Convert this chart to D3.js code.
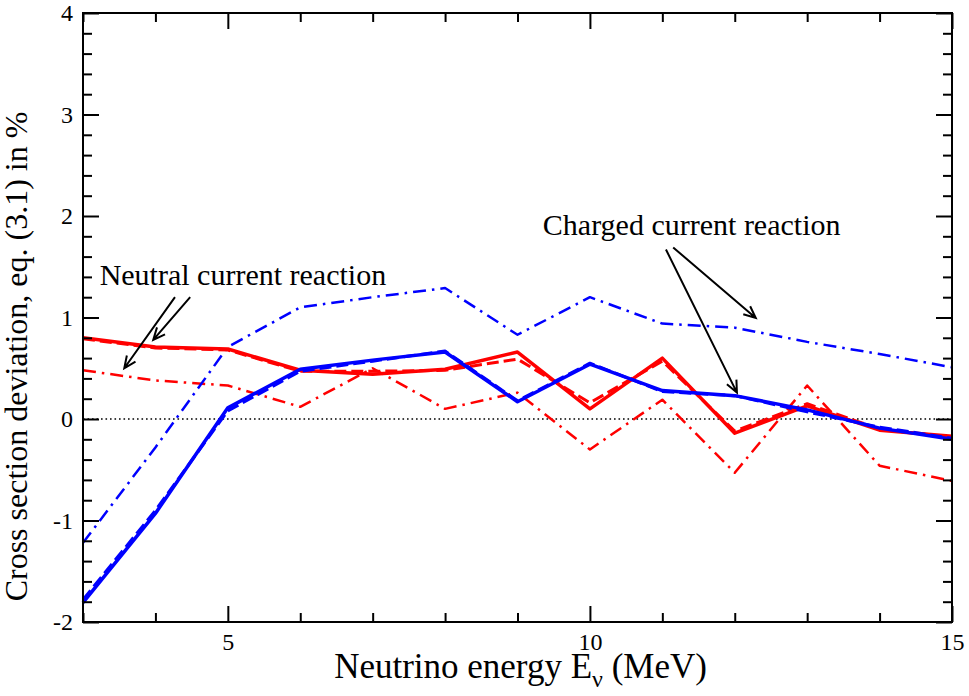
<!DOCTYPE html>
<html>
<head>
<meta charset="utf-8">
<script src="https://cdn.jsdelivr.net/npm/d3@7"></script>
<style>
  body { margin: 0; background: #fff; }
  text { font-family: "Liberation Serif", "Times New Roman", serif; }
</style>
</head>
<body>
<svg id="chart" width="969" height="696"></svg>
<script>
// data
const energy = [3, 4, 5, 6, 7, 8, 9, 10, 11, 12, 13, 14, 15];
const ncSolid   = [0.80, 0.71, 0.69, 0.48, 0.44, 0.49, 0.66, 0.10, 0.60, -0.14, 0.13, -0.11, -0.17];
const ncDashed  = [0.79, 0.70, 0.68, 0.47, 0.47, 0.48, 0.59, 0.16, 0.57, -0.12, 0.15, -0.10, -0.18];
const ncDashDot = [0.48, 0.38, 0.33, 0.12, 0.50, 0.10, 0.26, -0.30, 0.19, -0.53, 0.33, -0.46, -0.61];
const ccSolid   = [-1.81, -0.93, 0.11, 0.49, 0.58, 0.66, 0.17, 0.54, 0.28, 0.23, 0.09, -0.09, -0.20];
const ccDashed  = [-1.78, -0.90, 0.08, 0.47, 0.57, 0.67, 0.18, 0.55, 0.27, 0.23, 0.07, -0.08, -0.19];
const ccDashDot = [-1.22, -0.28, 0.71, 1.10, 1.20, 1.29, 0.83, 1.20, 0.94, 0.90, 0.76, 0.64, 0.51];

const xMajor = [5, 10, 15];
const yMajor = [-2, -1, 0, 1, 2, 3, 4];

const margin = { top: 13, right: 17, bottom: 74, left: 83 };
const majorLen = 16, minorLen = 9;

const svg = d3.select('#chart');
const width = +svg.attr('width');
const height = +svg.attr('height');
const innerWidth = width - margin.left - margin.right;
const innerHeight = height - margin.top - margin.bottom;

const g = svg.append('g')
  .attr('transform', 'translate(' + margin.left + ',' + margin.top + ')');

const x = d3.scaleLinear().domain([3, 15]).range([0, innerWidth]);
const y = d3.scaleLinear().domain([-2, 4]).range([innerHeight, 0]);

const xMinor = d3.range(3, 15.01, 1).filter(v => !xMajor.includes(v));
const yMinor = d3.range(-2, 4.01, 0.2).map(v => +v.toFixed(1)).filter(v => !yMajor.includes(v));

// zero line
g.append('line')
  .attr('x1', x(3)).attr('x2', x(15))
  .attr('y1', y(0)).attr('y2', y(0))
  .attr('stroke', 'black')
  .attr('stroke-width', 1.6)
  .attr('stroke-dasharray', '1.6,2.9');

// series
const series = [
  { values: ncDashDot, color: '#ff0000', width: 2.5, dash: '13,6,2.5,6' },
  { values: ccDashDot, color: '#0000ff', width: 2.5, dash: '13,6,2.5,6' },
  { values: ncDashed,  color: '#ff0000', width: 3,   dash: '12,5' },
  { values: ncSolid,   color: '#ff0000', width: 3.5, dash: null },
  { values: ccDashed,  color: '#0000ff', width: 3,   dash: '12,5' },
  { values: ccSolid,   color: '#0000ff', width: 3.5, dash: null }
];

const line = d3.line()
  .x((d, i) => x(energy[i]))
  .y(d => y(d));

series.forEach(s => {
  g.append('path')
    .datum(s.values)
    .attr('fill', 'none')
    .attr('stroke', s.color)
    .attr('stroke-width', s.width)
    .attr('stroke-linejoin', 'round')
    .attr('stroke-dasharray', s.dash)
    .attr('d', line);
});

// axes, ticks inward on all four sides
function styleAxis(sel) {
  sel.attr('font-family', null).attr('font-size', null);
  sel.select('.domain').remove();
  sel.selectAll('.tick line').attr('stroke', 'black').attr('stroke-width', 2);
  sel.selectAll('.tick text').filter(function () { return this.textContent === ''; }).remove();
  sel.selectAll('.tick text').attr('fill', 'black').style('font-size', '24px');
}

g.append('g').attr('transform', 'translate(0,' + innerHeight + ')')
  .call(d3.axisBottom(x).tickValues(xMajor).tickSize(-majorLen).tickPadding(11).tickFormat(d => String(d)))
  .call(styleAxis);
g.append('g').attr('transform', 'translate(0,' + innerHeight + ')')
  .call(d3.axisBottom(x).tickValues(xMinor).tickSize(-minorLen).tickFormat(''))
  .call(styleAxis);
g.append('g')
  .call(d3.axisTop(x).tickValues(xMajor).tickSize(-majorLen).tickFormat(''))
  .call(styleAxis);
g.append('g')
  .call(d3.axisTop(x).tickValues(xMinor).tickSize(-minorLen).tickFormat(''))
  .call(styleAxis);

g.append('g')
  .call(d3.axisLeft(y).tickValues(yMajor).tickSize(-majorLen).tickPadding(10).tickFormat(d => String(d)))
  .call(styleAxis);
g.append('g')
  .call(d3.axisLeft(y).tickValues(yMinor).tickSize(-minorLen).tickFormat(''))
  .call(styleAxis);
g.append('g').attr('transform', 'translate(' + innerWidth + ',0)')
  .call(d3.axisRight(y).tickValues(yMajor).tickSize(-majorLen).tickFormat(''))
  .call(styleAxis);
g.append('g').attr('transform', 'translate(' + innerWidth + ',0)')
  .call(d3.axisRight(y).tickValues(yMinor).tickSize(-minorLen).tickFormat(''))
  .call(styleAxis);

// frame
g.append('rect')
  .attr('x', 0).attr('y', 0)
  .attr('width', innerWidth).attr('height', innerHeight)
  .attr('fill', 'none')
  .attr('stroke', 'black')
  .attr('stroke-width', 2);

// axis titles
const xTitle = g.append('text')
  .attr('x', innerWidth / 2 + 3)
  .attr('y', innerHeight + 56)
  .attr('text-anchor', 'middle')
  .attr('font-size', 35);
xTitle.append('tspan').text('Neutrino energy E');
xTitle.append('tspan').attr('font-size', 24).attr('dy', 9).text('ν');
xTitle.append('tspan').attr('dy', -9).text(' (MeV)');

g.append('text')
  .attr('transform', 'rotate(-90)')
  .attr('x', -innerHeight / 2 - 39)
  .attr('y', -56)
  .attr('text-anchor', 'middle')
  .attr('font-size', 32)
  .text('Cross section deviation, eq. (3.1) in %');

// annotations (data coordinates)
const labels = [
  { text: 'Neutral current reaction', e: 3.23, v: 1.32 },
  { text: 'Charged current reaction', e: 9.35, v: 1.81 }
];
const arrows = [
  { from: [4.27, 1.20], to: [3.57, 0.50] },
  { from: [4.48, 1.20], to: [3.97, 0.78] },
  { from: [11.05, 1.67], to: [12.03, 0.26] },
  { from: [11.15, 1.69], to: [12.29, 0.995] }
];

labels.forEach(l => {
  g.append('text')
    .attr('x', x(l.e)).attr('y', y(l.v))
    .attr('font-size', 30)
    .text(l.text);
});

arrows.forEach(a => {
  const x1 = x(a.from[0]), y1 = y(a.from[1]);
  const x2 = x(a.to[0]), y2 = y(a.to[1]);
  const ang = Math.atan2(y2 - y1, x2 - x1);
  const len = 13, spread = 0.42;
  const p = d3.path();
  p.moveTo(x1, y1); p.lineTo(x2, y2);
  p.moveTo(x2 - len * Math.cos(ang - spread), y2 - len * Math.sin(ang - spread));
  p.lineTo(x2, y2);
  p.lineTo(x2 - len * Math.cos(ang + spread), y2 - len * Math.sin(ang + spread));
  g.append('path')
    .attr('d', p.toString())
    .attr('fill', 'none')
    .attr('stroke', 'black')
    .attr('stroke-width', 2);
});
</script>
</body>
</html>
